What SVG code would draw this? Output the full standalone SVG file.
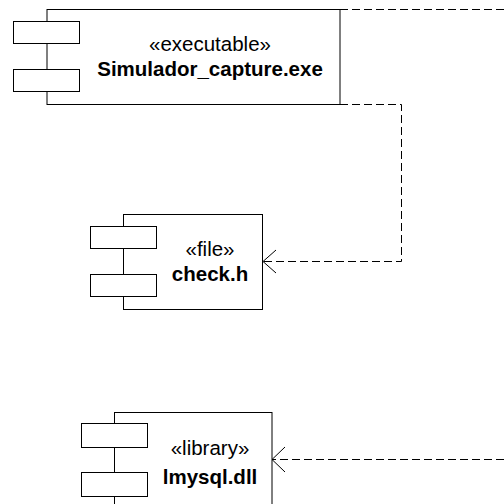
<svg xmlns="http://www.w3.org/2000/svg" width="504" height="504" viewBox="0 0 504 504">
  <style>
    .body { fill: #ffffff; stroke: #000000; stroke-width: 1; }
    .port { fill: #ffffff; stroke: #000000; stroke-width: 1; }
    .stereo { font-family: "Liberation Sans", Arial, sans-serif; font-size: 20.5px; text-anchor: middle; fill: #000000; }
    .name { font-family: "Liberation Sans", Arial, sans-serif; font-size: 20.5px; font-weight: bold; text-anchor: middle; fill: #000000; }
    .dep { fill: none; stroke: #000000; stroke-width: 1; stroke-dasharray: 8 4; }
    .head { fill: none; stroke: #000000; stroke-width: 1; }
  </style>
  <rect width="504" height="504" fill="#ffffff"/>

  <!-- dependencies -->
  <g id="connectors">
    <path class="dep" d="M340,9.5 H504"/>
    <path class="dep" d="M340,104.5 H401.5 V261.5 H263"/>
    <polyline class="head" points="276,250 263,261.5 276,273"/>
    <path class="dep" d="M504,459.5 H272"/>
    <polyline class="head" points="285,447 272,459.5 285,472"/>
  </g>

  <!-- executable component -->
  <g id="simulador_capture">
    <rect class="body" x="47" y="9.5" width="293" height="95"/>
    <rect class="port" x="13.5" y="21.5" width="66" height="22"/>
    <rect class="port" x="13.5" y="69.5" width="66" height="22"/>
    <text class="stereo" x="210" y="51">«executable»</text>
    <text class="name" x="210" y="76">Simulador_capture.exe</text>
  </g>

  <!-- header file component -->
  <g id="check_h">
    <rect class="body" x="123.5" y="214.5" width="139" height="95"/>
    <rect class="port" x="90.5" y="226.5" width="66" height="22"/>
    <rect class="port" x="90.5" y="274.5" width="66" height="22"/>
    <text class="stereo" x="210" y="256">«file»</text>
    <text class="name" x="210" y="281">check.h</text>
  </g>

  <!-- library component -->
  <g id="lmysql_dll">
    <rect class="body" x="114.5" y="412.5" width="157.5" height="100"/>
    <rect class="port" x="81.5" y="423.5" width="66" height="24"/>
    <rect class="port" x="81.5" y="472.5" width="66" height="24"/>
    <text class="stereo" x="210" y="455">«library»</text>
    <text class="name" x="210" y="484">lmysql.dll</text>
  </g>
</svg>
